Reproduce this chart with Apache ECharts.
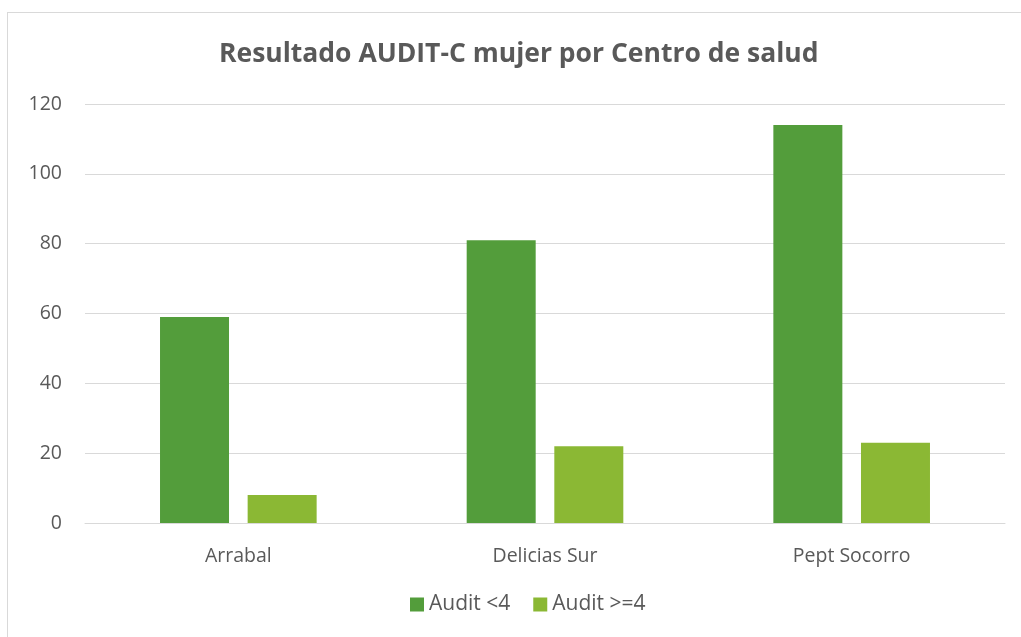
<!DOCTYPE html>
<html>
<head>
<meta charset="utf-8">
<script src="https://cdn.jsdelivr.net/npm/echarts@6/dist/echarts.min.js"></script>
<style>
html,body{margin:0;padding:0;background:#fff;}
#frame{position:absolute;left:7px;top:12px;width:1030px;height:640px;border:1px solid #d9d9d9;box-sizing:border-box;}
#chart{position:absolute;left:0;top:0;width:1021px;height:637px;}
</style>
</head>
<body>
<div id="frame"></div>
<div id="chart"></div>
<script>
var categories = ['Arrabal', 'Delicias Sur', 'Pept Socorro'];
var seriesNames = ['Audit <4', 'Audit >=4'];
var auditLow = [59, 81, 114];
var auditHigh = [8, 22, 23];

var myChart = echarts.init(document.getElementById('chart'));
var option = {
    animation: false,
    title: {
        text: 'Resultado AUDIT-C mujer por Centro de salud',
        left: 219,
        top: 41,
        padding: 0,
        textStyle: {
            fontFamily: 'Open Sans',
            fontSize: 26.5,
            fontWeight: 'bold',
            color: '#595959'
        }
    },
    legend: {
        bottom: 17,
        left: 405,
        itemWidth: 14,
        itemHeight: 14,
        itemGap: 23,
        icon: 'rect',
        textStyle: { fontFamily: 'Open Sans', fontSize: 21, color: '#595959' },
        data: seriesNames
    },
    grid: {
        left: 85,
        right: 16,
        top: 104,
        bottom: 114
    },
    xAxis: {
        type: 'category',
        data: categories,
        axisTick: { show: false },
        axisLine: { lineStyle: { color: '#d9d9d9', width: 1 } },
        axisLabel: { fontFamily: 'Open Sans', fontSize: 19.5, color: '#595959', margin: 23 }
    },
    yAxis: {
        type: 'value',
        min: 0,
        max: 120,
        interval: 20,
        axisLine: { show: false },
        axisTick: { show: false },
        axisLabel: { fontFamily: 'Open Sans', fontSize: 19.5, color: '#595959', margin: 23 },
        splitLine: { lineStyle: { color: '#d9d9d9', width: 1 } }
    },
    series: [
        {
            name: seriesNames[0],
            type: 'bar',
            data: auditLow,
            barWidth: 69,
            barGap: '27%',
            itemStyle: { color: '#539d3b' }
        },
        {
            name: seriesNames[1],
            type: 'bar',
            data: auditHigh,
            barWidth: 69,
            itemStyle: { color: '#8bb834' }
        }
    ]
};
myChart.setOption(option);
</script>
</body>
</html>
